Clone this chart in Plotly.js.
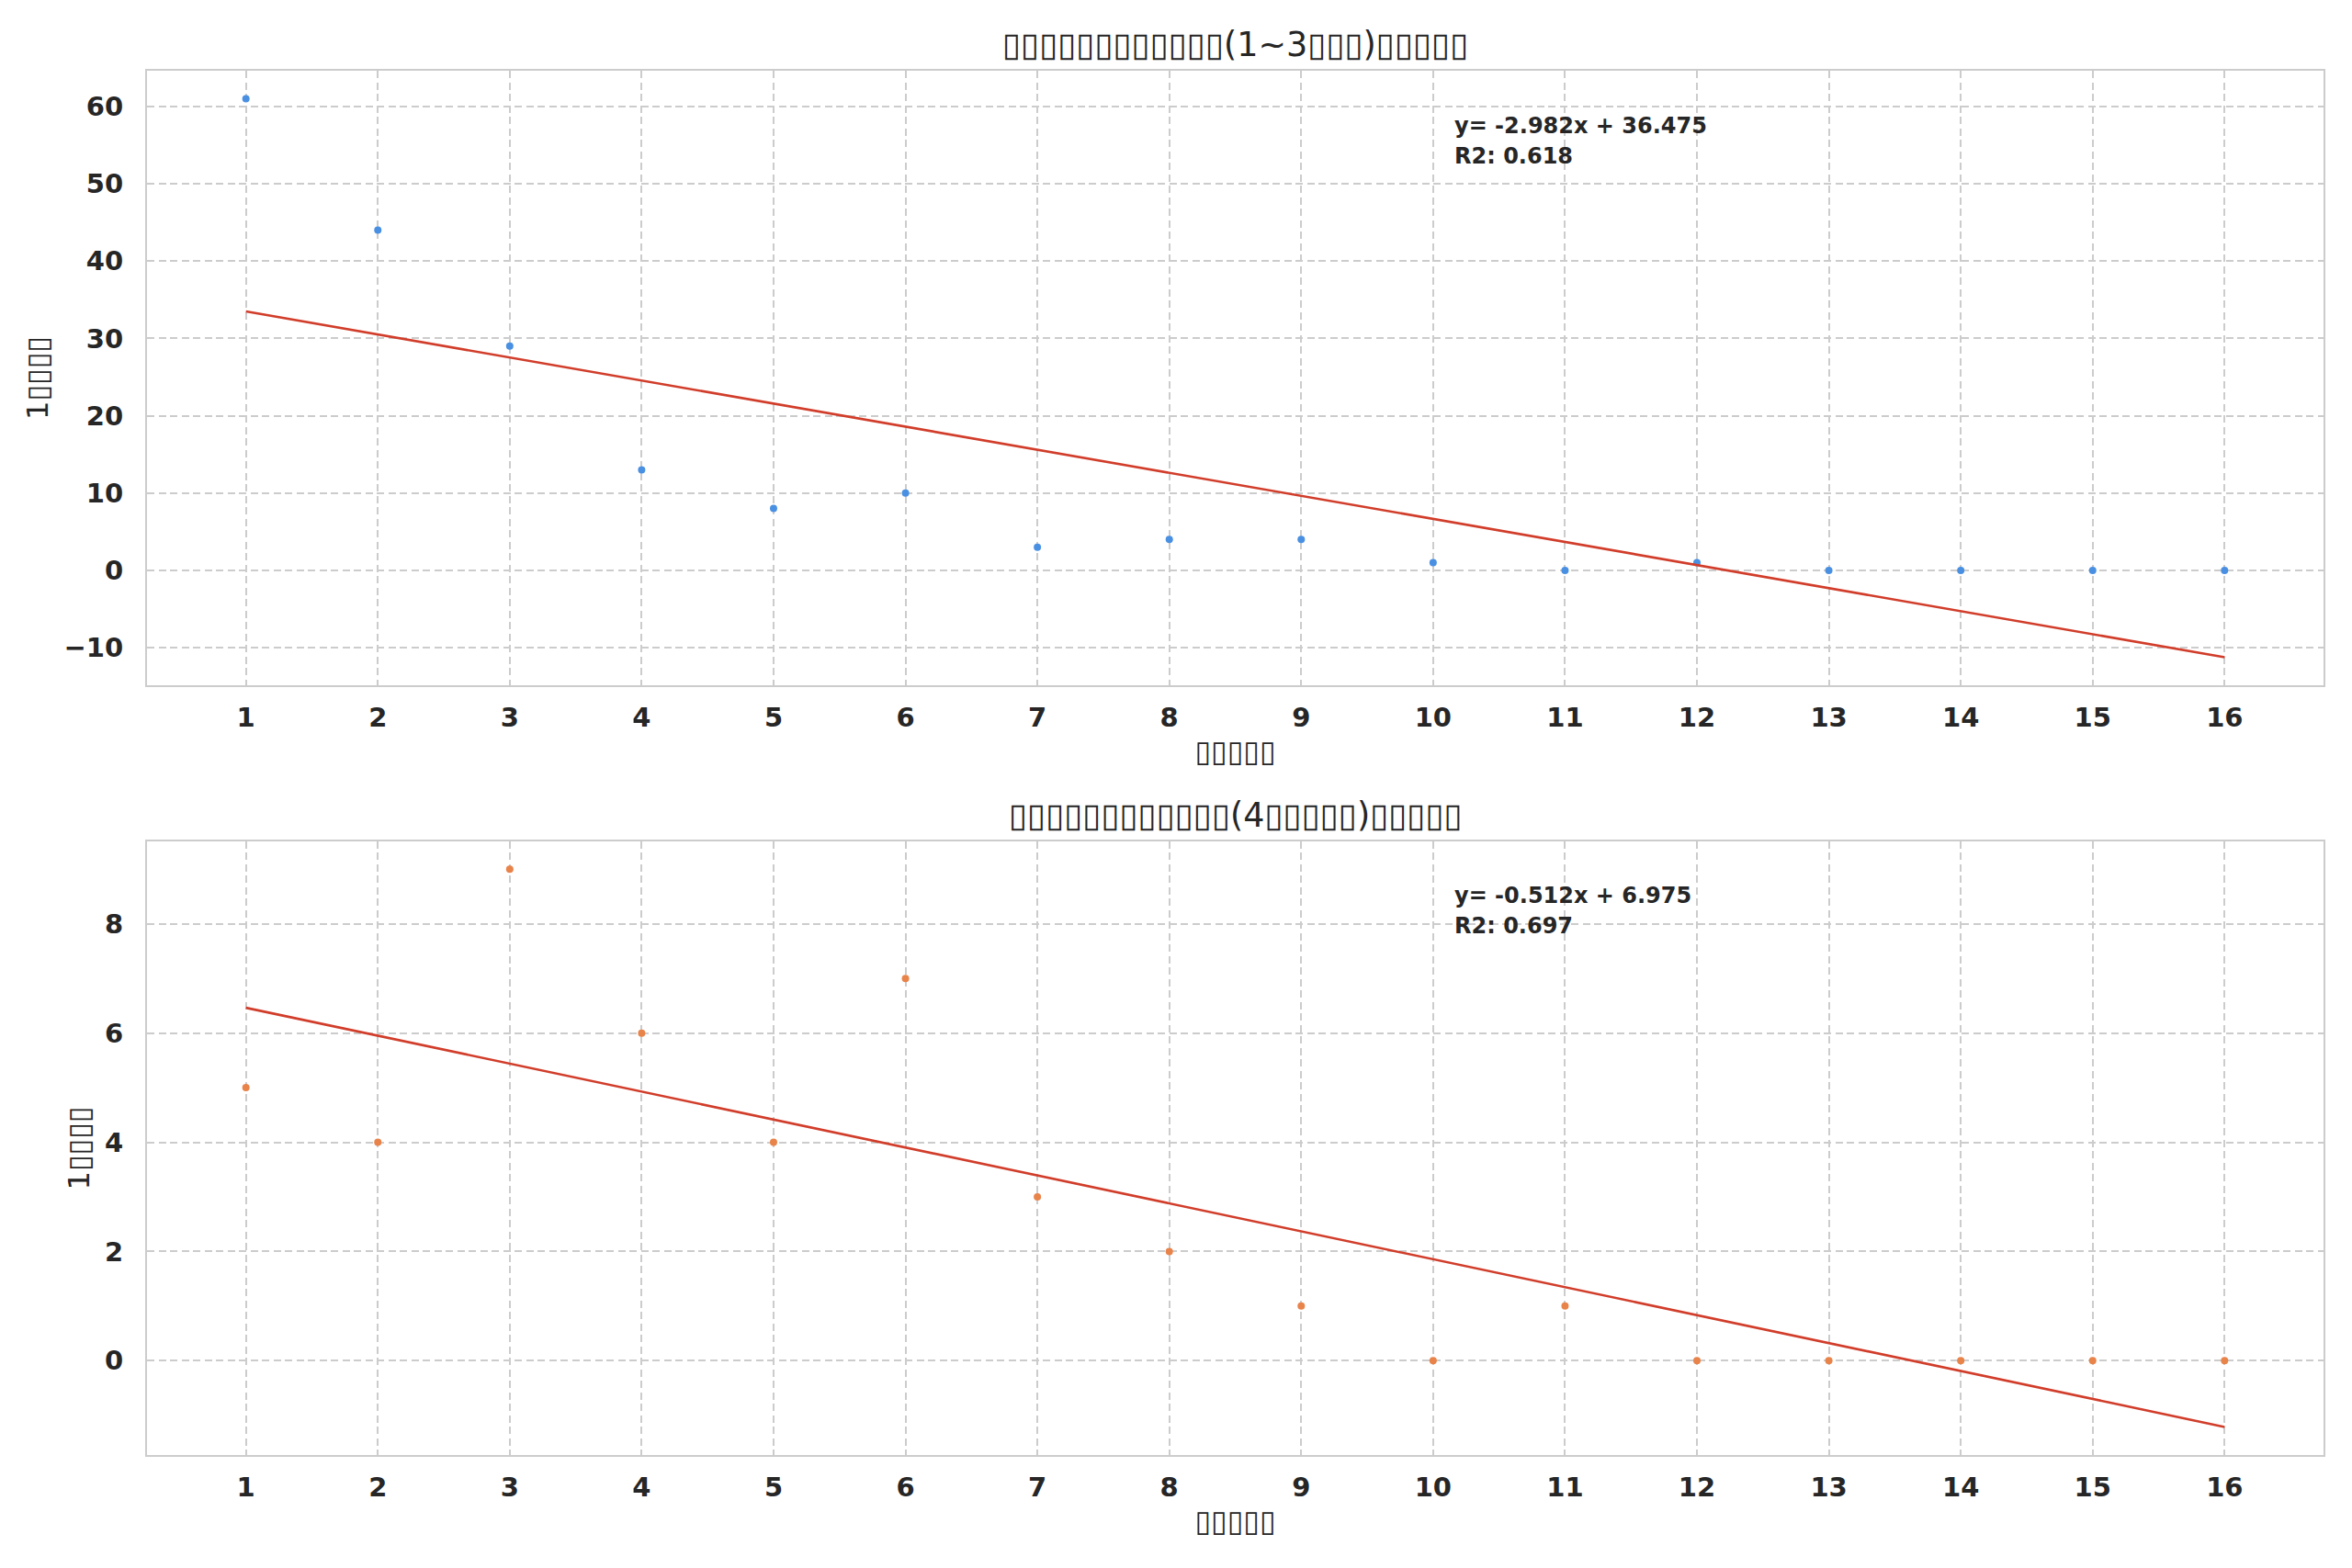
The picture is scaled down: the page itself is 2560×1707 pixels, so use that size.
<!DOCTYPE html>
<html>
<head>
<meta charset="utf-8">
<script src="https://cdn.plot.ly/plotly-3.0.1.min.js"></script>
<style>html,body{margin:0;padding:0;background:#fff;}#chart{width:2560px;height:1707px;}</style>
</head>
<body>
<div id="chart"></div>
<script>
// ---- data ----
const ranks = [1,2,3,4,5,6,7,8,9,10,11,12,13,14,15,16];
const groupA = [61,44,29,13,8,10,3,4,4,1,0,1,0,0,0,0];   // (1~3...)
const groupB = [5,4,9,6,4,7,3,2,1,0,1,0,0,0,0,0];        // (4...)
// the reference shows its CJK text as missing-glyph boxes
const titleA = "▯▯▯▯▯▯▯▯▯▯▯▯(1~3▯▯▯)▯▯▯▯▯";
const titleB = "▯▯▯▯▯▯▯▯▯▯▯▯(4▯▯▯▯▯)▯▯▯▯▯";
const xLabel = "▯▯▯▯▯";
const yLabel = "1▯▯▯▯";

// least-squares fit from the data
function fit(x, y) {
  const n = x.length;
  const mx = x.reduce((a,b)=>a+b,0)/n, my = y.reduce((a,b)=>a+b,0)/n;
  let sxy=0, sxx=0, syy=0;
  for (let i=0;i<n;i++){ sxy+=(x[i]-mx)*(y[i]-my); sxx+=(x[i]-mx)**2; syy+=(y[i]-my)**2; }
  const m = sxy/sxx, b = my - m*mx;
  const r2 = (sxy*sxy)/(sxx*syy);
  return {m, b, r2, yhat: x.map(v=>m*v+b)};
}
const fA = fit(ranks, groupA), fB = fit(ranks, groupB);
function eqLine(f){ return "y= " + f.m.toFixed(3) + "x + " + f.b.toFixed(3); }
function r2Line(f){ return "R2: " + f.r2.toFixed(3); }

const FONT = "DejaVu Sans, Liberation Sans, sans-serif";
const TXT = "#262626";
const GRID = "#cccccc";

const traces = [
  {x: ranks, y: groupA, type:"scatter", mode:"markers", xaxis:"x", yaxis:"y",
   marker:{color:"#4a90e2", size:8}, showlegend:false},
  {x: ranks, y: fA.yhat, type:"scatter", mode:"lines", xaxis:"x", yaxis:"y",
   line:{color:"#d13d2a", width:2.6}, showlegend:false},
  {x: ranks, y: groupB, type:"scatter", mode:"markers", xaxis:"x2", yaxis:"y2",
   marker:{color:"#e8834a", size:8}, showlegend:false},
  {x: ranks, y: fB.yhat, type:"scatter", mode:"lines", xaxis:"x2", yaxis:"y2",
   line:{color:"#d13d2a", width:2.6}, showlegend:false}
];

const DASH = "8px,4.5px";
function xax(anchor){
  return {
    anchor: anchor, domain:[0,1], range:[0.25,16.75],
    tickmode:"array", tickvals: ranks, ticktext: ranks.map(String),
    showgrid:true, gridcolor:GRID, gridwidth:2, griddash:DASH,
    zeroline:false, showline:true, linecolor:GRID, linewidth:2, mirror:true,
    ticks:"", ticklabelstandoff: 8,
    tickfont:{family:FONT, size:29, color:TXT, weight:"bold"},
    title:{text:xLabel, font:{family:FONT, size:32, color:TXT}, standoff:10}
  };
}
function yax(anchor, domain, range, dtick){
  return {
    anchor: anchor, domain: domain, range: range, dtick: dtick, tick0: 0,
    showgrid:true, gridcolor:GRID, gridwidth:2, griddash:DASH,
    zeroline:false, showline:true, linecolor:GRID, linewidth:2, mirror:true,
    ticks:"", ticklabelstandoff: 18,
    tickfont:{family:FONT, size:29, color:TXT, weight:"bold"},
    title:{text:yLabel, font:{family:FONT, size:32, color:TXT}, standoff:7}
  };
}

function textAnn(txt, xr, yr, y){
  return {text:txt, xref:xr, yref:yr, x:0.6, y:y, xanchor:"left", yanchor:"middle",
          align:"left", showarrow:false, font:{family:FONT, size:24, color:TXT, weight:"bold"}};
}

const layout = {
  width:2560, height:1707,
  paper_bgcolor:"#ffffff", plot_bgcolor:"#ffffff",
  margin:{l:160, r:31, t:77, b:123},
  font:{family:FONT, color:TXT},
  xaxis: xax("y"),
  yaxis: yax("x", [0.5561,1], [-14.85,64.61], 10),
  xaxis2: xax("y2"),
  yaxis2: yax("x2", [0,0.4433], [-1.728,9.511], 2),
  annotations:[
    {text:titleA, xref:"paper", yref:"paper", x:0.5, y:1.0186, xanchor:"center", yanchor:"middle",
     showarrow:false, font:{family:FONT, size:36.5, color:TXT}},
    {text:titleB, xref:"paper", yref:"paper", x:0.5, y:0.4625, xanchor:"center", yanchor:"middle",
     showarrow:false, font:{family:FONT, size:36.5, color:TXT}},
    textAnn(eqLine(fA), "x domain", "y domain", 0.9103),
    textAnn(r2Line(fA), "x domain", "y domain", 0.861),
    textAnn(eqLine(fB), "x2 domain", "y2 domain", 0.9117),
    textAnn(r2Line(fB), "x2 domain", "y2 domain", 0.8623)
  ]
};

Plotly.newPlot("chart", traces, layout, {staticPlot:true, displayModeBar:false});
</script>
</body>
</html>
